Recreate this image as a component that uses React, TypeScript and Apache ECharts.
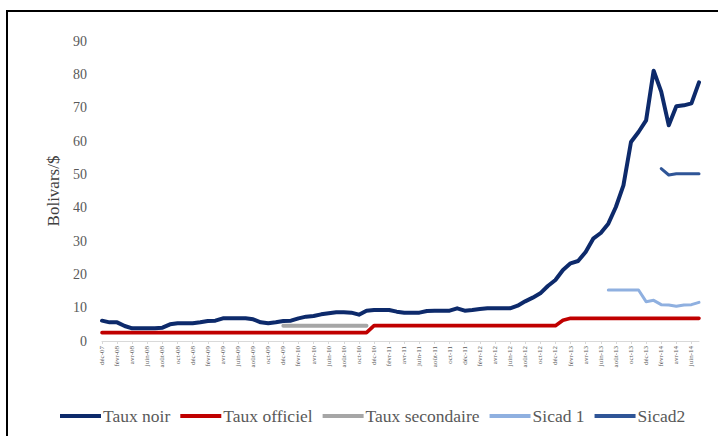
import React, { useEffect, useRef } from "react";
import * as echarts from "echarts";

const monthNames = ["janv", "févr", "mars", "avr", "mai", "juin", "juil", "août", "sept", "oct", "nov", "déc"];
const firstMonth = 11; // déc
const firstYear = 2007;
const pointCount = 80;
const categories: string[] = [];
for (let i = 0; i < pointCount; i++) {
  const m = (firstMonth + i) % 12;
  const y = firstYear + Math.floor((firstMonth + i) / 12);
  categories.push(monthNames[m] + "-" + String(y % 100).padStart(2, "0"));
}

const tauxNoir = [
  6.1, 5.6, 5.6, 4.5, 3.8, 3.8, 3.8, 3.8, 4.0, 5.0,
  5.3, 5.3, 5.3, 5.6, 6.0, 6.1, 6.8, 6.8, 6.8, 6.8,
  6.5, 5.6, 5.3, 5.6, 6.0, 6.1, 6.8, 7.3, 7.5, 8.0,
  8.3, 8.6, 8.6, 8.5, 7.9, 9.1, 9.3, 9.3, 9.3, 8.8,
  8.5, 8.5, 8.5, 9.0, 9.1, 9.1, 9.1, 9.8, 9.1, 9.3,
  9.6, 9.8, 9.8, 9.8, 9.8, 10.6, 11.9, 13.0, 14.3, 16.5,
  18.3, 21.3, 23.3, 24.0, 26.7, 30.7, 32.4, 35.2, 40.2, 46.7,
  59.7, 62.7, 66.2, 81.1, 74.8, 64.7, 70.4, 70.7, 71.3, 77.6,
];

const tauxOfficiel = [
  2.5, 2.5, 2.5, 2.5, 2.5, 2.5, 2.5, 2.5, 2.5, 2.5,
  2.5, 2.5, 2.5, 2.5, 2.5, 2.5, 2.5, 2.5, 2.5, 2.5,
  2.5, 2.5, 2.5, 2.5, 2.5, 2.5, 2.5, 2.5, 2.5, 2.5,
  2.5, 2.5, 2.5, 2.5, 2.5, 2.5, 4.6, 4.6, 4.6, 4.6,
  4.6, 4.6, 4.6, 4.6, 4.6, 4.6, 4.6, 4.6, 4.6, 4.6,
  4.6, 4.6, 4.6, 4.6, 4.6, 4.6, 4.6, 4.6, 4.6, 4.6,
  4.6, 6.2, 6.8, 6.8, 6.8, 6.8, 6.8, 6.8, 6.8, 6.8,
  6.8, 6.8, 6.8, 6.8, 6.8, 6.8, 6.8, 6.8, 6.8, 6.8,
];

const N = null;
const tauxSecondaire = [
  N, N, N, N, N, N, N, N, N, N,
  N, N, N, N, N, N, N, N, N, N,
  N, N, N, N, 4.6, 4.6, 4.6, 4.6, 4.6, 4.6,
  4.6, 4.6, 4.6, 4.6, 4.6, 4.6, N, N, N, N,
  N, N, N, N, N, N, N, N, N, N,
  N, N, N, N, N, N, N, N, N, N,
  N, N, N, N, N, N, N, N, N, N,
  N, N, N, N, N, N, N, N, N, N,
];

const sicad1 = [
  N, N, N, N, N, N, N, N, N, N,
  N, N, N, N, N, N, N, N, N, N,
  N, N, N, N, N, N, N, N, N, N,
  N, N, N, N, N, N, N, N, N, N,
  N, N, N, N, N, N, N, N, N, N,
  N, N, N, N, N, N, N, N, N, N,
  N, N, N, N, N, N, N, 15.3, 15.3, 15.3,
  15.3, 15.3, 11.8, 12.2, 10.9, 10.8, 10.4, 10.8, 10.9, 11.6,
];

const sicad2 = [
  N, N, N, N, N, N, N, N, N, N,
  N, N, N, N, N, N, N, N, N, N,
  N, N, N, N, N, N, N, N, N, N,
  N, N, N, N, N, N, N, N, N, N,
  N, N, N, N, N, N, N, N, N, N,
  N, N, N, N, N, N, N, N, N, N,
  N, N, N, N, N, N, N, N, N, N,
  N, N, N, N, 51.7, 49.8, 50.2, 50.2, 50.2, 50.2,
];

const seriesNames = ["Taux noir", "Taux officiel", "Taux secondaire", "Sicad 1", "Sicad2"];
const seriesColors = ["#0D2A6B", "#C00000", "#A6A6A6", "#8FB0E0", "#2F5597"];
const seriesWidths = [4, 3.6, 4, 3, 3];
const seriesData = [tauxNoir, tauxOfficiel, tauxSecondaire, sicad1, sicad2];

const yTicks = { min: 0, max: 90, interval: 10 };

export default function App() {
  const ref = useRef<HTMLDivElement>(null);
  useEffect(() => {
    if (!ref.current) return;
    const chart = echarts.init(ref.current, undefined, { renderer: "svg" });
    const font = "Liberation Serif";
    chart.setOption({
      animation: false,
      backgroundColor: "#ffffff",
      graphic: [
        {
          type: "rect",
          shape: { x: 7, y: 11, width: 730, height: 450 },
          style: { fill: "none", stroke: "#000000", lineWidth: 2 },
          silent: true,
        },
      ],
      grid: { left: 102, right: 19, top: 41, bottom: 95, containLabel: false },
      legend: {
        left: 55,
        top: 402,
        icon: "rect",
        itemWidth: 41,
        itemHeight: 4,
        itemGap: 10,
        textStyle: { fontFamily: font, fontSize: 17.5, color: "#595959", padding: [0, 0, 0, -3] },
        data: seriesNames,
      },
      xAxis: {
        type: "category",
        data: categories,
        boundaryGap: false,
        axisLine: { lineStyle: { color: "#D9D9D9", width: 1 } },
        axisTick: { interval: 1, length: 3, lineStyle: { color: "#D9D9D9" } },
        axisLabel: {
          interval: 1,
          rotate: 90,
          fontSize: 7,
          color: "#595959",
          fontFamily: font,
          margin: 5,
        },
        splitLine: { show: false },
      },
      yAxis: {
        type: "value",
        min: yTicks.min,
        max: yTicks.max,
        interval: yTicks.interval,
        name: "Bolivars/$",
        nameLocation: "middle",
        nameGap: 40,
        nameTextStyle: { fontFamily: font, fontSize: 17, color: "#404040" },
        axisLine: { show: false },
        axisTick: { show: false },
        splitLine: { show: false },
        axisLabel: { fontSize: 14, color: "#595959", fontFamily: font, margin: 15 },
      },
      series: seriesNames.map((name, k) => ({
        name,
        type: "line",
        data: seriesData[k],
        showSymbol: false,
        symbol: "none",
        connectNulls: false,
        color: seriesColors[k],
        lineStyle: { color: seriesColors[k], width: seriesWidths[k], cap: "round", join: "round" },
        z: 10 - k,
      })),
    });
    return () => chart.dispose();
  }, []);
  return (
    <div
      ref={ref}
      style={{ position: "fixed", left: 0, top: 0, width: 718, height: 436 }}
    />
  );
}
